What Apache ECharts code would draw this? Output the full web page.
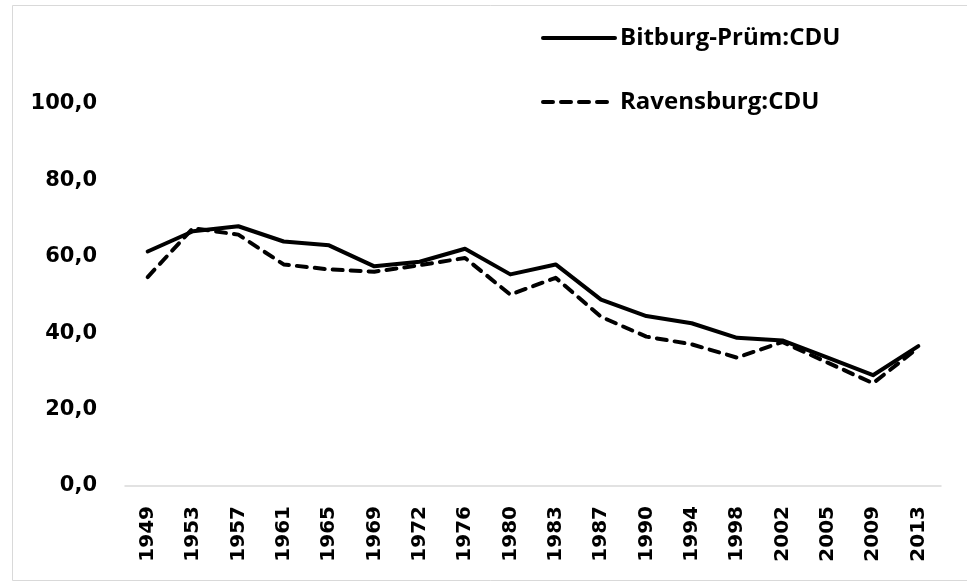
<!DOCTYPE html>
<html>
<head>
<meta charset="utf-8">
<script src="https://cdn.jsdelivr.net/npm/echarts@6/dist/echarts.min.js"></script>
<style>
  html, body { margin: 0; padding: 0; background: #fff; }
  #chart { width: 967px; height: 582px; }
</style>
</head>
<body>
<div id="chart"></div>
<script>
// Wahljahre (x axis)
const years = ['1949', '1953', '1957', '1961', '1965', '1969', '1972', '1976', '1980',
    '1983', '1987', '1990', '1994', '1998', '2002', '2005', '2009', '2013'];

// CDU share
const bitburgCDU = [61.4, 66.7, 68.0, 64.0, 63.0, 57.5, 58.7, 62.1, 55.4,
    58.0, 48.8, 44.5, 42.6, 38.8, 38.1, 33.6, 29.0, 36.6];
const ravensburgCDU = [54.7, 67.5, 65.8, 58.0, 56.7, 56.1, 57.8, 59.7, 50.1,
    54.5, 44.3, 39.1, 37.1, 33.6, 37.7, 32.3, 26.9, 36.2];

const seriesNames = ['Bitburg-Prüm:CDU', 'Ravensburg:CDU'];

const AXIS_FONT = '"DejaVu Sans", sans-serif';
const LEGEND_FONT = '"Open Sans", "Noto Sans", sans-serif';

const chart = echarts.init(document.getElementById('chart'));

chart.setOption({
    animation: false,
    backgroundColor: '#fff',
    graphic: [{
        type: 'rect',
        shape: { x: 12.5, y: 5.5, width: 960, height: 575 },
        style: { fill: 'none', stroke: '#d9d9d9', lineWidth: 1 },
        silent: true
    }],
    legend: {
        orient: 'vertical',
        left: 536,
        top: 21,
        itemWidth: 72,
        itemHeight: 14,
        itemGap: 40,
        itemStyle: { color: 'transparent', borderWidth: 0, opacity: 0 },
        lineStyle: { width: 4 },
        textStyle: { fontFamily: LEGEND_FONT, fontWeight: 'bold', fontSize: 24, color: '#000' },
        data: seriesNames
    },
    grid: { left: 125, right: 26, top: 104, bottom: 96 },
    xAxis: {
        type: 'category',
        data: years,
        boundaryGap: true,
        axisLine: { lineStyle: { color: '#d9d9d9', width: 1.5 } },
        axisTick: { show: false },
        axisLabel: {
            rotate: 90,
            margin: 20,
            interval: 0,
            fontFamily: AXIS_FONT,
            fontWeight: 'bold',
            fontSize: 20,
            color: '#000'
        }
    },
    yAxis: {
        type: 'value',
        min: 0,
        max: 100,
        interval: 20,
        axisLine: { show: false },
        axisTick: { show: false },
        splitLine: { show: false },
        axisLabel: {
            margin: 28,
            fontFamily: AXIS_FONT,
            fontWeight: 'bold',
            fontSize: 21,
            color: '#000',
            formatter: function (v) { return v.toFixed(1).replace('.', ','); }
        }
    },
    series: [{
        name: seriesNames[0],
        type: 'line',
        data: bitburgCDU,
        symbol: 'none',
        lineStyle: { color: '#000', width: 4, cap: 'round', join: 'round' },
        itemStyle: { color: '#000' }
    }, {
        name: seriesNames[1],
        type: 'line',
        data: ravensburgCDU,
        symbol: 'none',
        lineStyle: { color: '#000', width: 4, type: [10, 8], cap: 'round', join: 'round' },
        itemStyle: { color: '#000' }
    }]
});
</script>
</body>
</html>
